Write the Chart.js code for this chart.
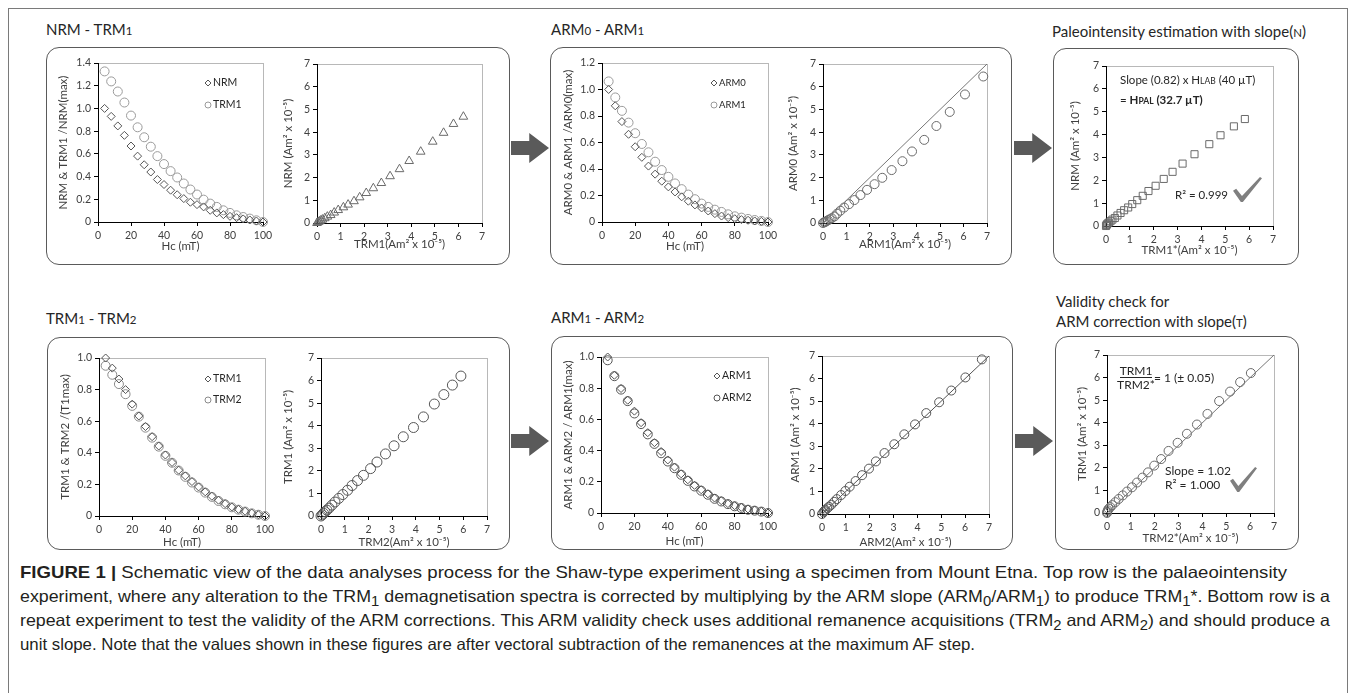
<!DOCTYPE html>
<html>
<head>
<meta charset="utf-8">
<script src="https://cdn.jsdelivr.net/npm/chart.js@4.4.1/dist/chart.umd.min.js"></script>
<style>
  html, body { margin: 0; padding: 0; background: #fff; }
  body { width: 1355px; height: 693px; position: relative; overflow: hidden; font-family: Lato, 'Open Sans', sans-serif; color: #262626; }
  .frame { position: absolute; left: 8px; top: 8px; width: 1338px; height: 720px; border: 1px solid #7a7a7a; }
  .box { position: absolute; border: 1px solid #5a5a5a; border-radius: 13px; }
  .title { position: absolute; font-size: 15px; line-height: 18px; white-space: nowrap; color: #262626; }
  .title small { font-size: 11.5px; }
  .arrow { position: absolute; width: 38px; height: 30px; background: #5a5a5a;
           clip-path: polygon(0 27%, 48% 27%, 48% 0, 100% 50%, 48% 100%, 48% 73%, 0 73%); }
  .plot { position: absolute; }
  .caption { position: absolute; left: 20px; top: 560px; font-family: 'Liberation Sans', Arial, sans-serif; font-size: 16.5px; color: #231f20; }
  .caption div { height: 24px; line-height: 24px; white-space: nowrap; }
  .caption span { display: inline-block; transform-origin: 0 50%; }
</style>
</head>
<body>
<div class="frame"></div>

<div class="title" style="left:46px;top:20px">NRM - TRM<small>1</small></div>
<div class="title" style="left:551px;top:20px">ARM<small>0</small> - ARM<small>1</small></div>
<div class="title" style="left:1052px;top:22px">Paleointensity estimation with slope(<small>N</small>)</div>
<div class="title" style="left:46px;top:309px">TRM<small>1</small> - TRM<small>2</small></div>
<div class="title" style="left:551px;top:308px">ARM<small>1</small> - ARM<small>2</small></div>
<div class="title" style="left:1056px;top:291px;line-height:20px">Validity check for<br>ARM correction with slope(<small>T</small>)</div>

<div class="box" style="left:46px;top:47px;width:462px;height:216px"></div>
<div class="box" style="left:550px;top:47px;width:460px;height:216px"></div>
<div class="box" style="left:1053px;top:48px;width:244px;height:215px"></div>
<div class="box" style="left:47px;top:337px;width:461px;height:211px"></div>
<div class="box" style="left:551px;top:336px;width:460px;height:212px"></div>
<div class="box" style="left:1055px;top:336px;width:242px;height:212px"></div>

<div class="arrow" style="left:511px;top:133px"></div>
<div class="arrow" style="left:1014px;top:133px"></div>
<div class="arrow" style="left:511px;top:426px"></div>
<div class="arrow" style="left:1015px;top:426px"></div>

<div class="caption" id="caption">
  <div><span><b>FIGURE 1 |</b> Schematic view of the data analyses process for the Shaw-type experiment using a specimen from Mount Etna. Top row is the palaeointensity</span></div>
  <div><span>experiment, where any alteration to the TRM<sub>1</sub> demagnetisation spectra is corrected by multiplying by the ARM slope (ARM<sub>0</sub>/ARM<sub>1</sub>) to produce TRM<sub>1</sub>*. Bottom row is a</span></div>
  <div><span>repeat experiment to test the validity of the ARM corrections. This ARM validity check uses additional remanence acquisitions (TRM<sub>2</sub> and ARM<sub>2</sub>) and should produce a</span></div>
  <div><span>unit slope. Note that the values shown in these figures are after vectoral subtraction of the remanences at the maximum AF step.</span></div>
</div>

<script>
// AF demagnetisation steps (mT)
const hcSteps = [4, 8, 12, 16, 20, 24, 28, 32, 36, 40, 44, 48, 52, 56, 60, 64, 68, 72, 76, 80, 84, 88, 92, 96, 100];

// top row: normalised demagnetisation curves
const nrmNorm  = [1.00, 0.93, 0.846, 0.763, 0.669, 0.58, 0.504, 0.44, 0.374, 0.33, 0.28, 0.24, 0.206, 0.174, 0.153, 0.133, 0.103, 0.08, 0.065, 0.05, 0.038, 0.027, 0.018, 0.009, 0];
const trm1Norm = [1.326, 1.238, 1.149, 1.052, 0.937, 0.834, 0.746, 0.663, 0.58, 0.51, 0.448, 0.392, 0.339, 0.286, 0.242, 0.197, 0.162, 0.133, 0.103, 0.08, 0.059, 0.044, 0.03, 0.015, 0];
const arm0Norm = [1.00, 0.877, 0.758, 0.662, 0.568, 0.488, 0.422, 0.361, 0.308, 0.265, 0.227, 0.19, 0.157, 0.129, 0.106, 0.083, 0.063, 0.045, 0.033, 0.025, 0.018, 0.013, 0.008, 0.005, 0];
const arm1Norm = [1.061, 0.94, 0.839, 0.75, 0.67, 0.589, 0.526, 0.455, 0.392, 0.341, 0.291, 0.248, 0.207, 0.172, 0.139, 0.114, 0.093, 0.076, 0.058, 0.043, 0.033, 0.023, 0.015, 0.008, 0];

// top row: remanences (Am2 x 1e-5)
const trm1Abs  = [6.21, 5.79, 5.37, 4.91, 4.40, 3.91, 3.50, 3.10, 2.73, 2.39, 2.09, 1.81, 1.57, 1.32, 1.12, 0.90, 0.73, 0.58, 0.44, 0.33, 0.23, 0.16, 0.10, 0.05, 0];
const nrmAbs   = [4.68, 4.36, 3.97, 3.58, 3.14, 2.73, 2.37, 2.06, 1.76, 1.53, 1.32, 1.13, 0.96, 0.81, 0.69, 0.57, 0.46, 0.35, 0.28, 0.21, 0.15, 0.11, 0.07, 0.04, 0];
const arm1Abs  = [6.84, 6.06, 5.41, 4.84, 4.32, 3.80, 3.39, 2.93, 2.53, 2.20, 1.88, 1.60, 1.34, 1.11, 0.90, 0.74, 0.60, 0.49, 0.37, 0.28, 0.21, 0.15, 0.10, 0.05, 0];
const arm0Abs  = [6.45, 5.66, 4.89, 4.27, 3.66, 3.15, 2.72, 2.33, 1.99, 1.71, 1.46, 1.23, 1.01, 0.83, 0.68, 0.54, 0.41, 0.29, 0.21, 0.16, 0.12, 0.08, 0.05, 0.03, 0];
const trm1Star = [5.82, 5.36, 4.80, 4.33, 3.71, 3.21, 2.79, 2.42, 2.08, 1.78, 1.54, 1.31, 1.10, 0.93, 0.76, 0.61, 0.48, 0.37, 0.27, 0.19, 0.12, 0.07, 0.04, 0.02, 0];

// bottom row: normalised demagnetisation curves
const trm1NormB = [1.00, 0.936, 0.867, 0.80, 0.708, 0.633, 0.566, 0.502, 0.443, 0.386, 0.339, 0.29, 0.254, 0.218, 0.184, 0.153, 0.125, 0.10, 0.078, 0.057, 0.042, 0.03, 0.019, 0.008, 0];
const trm2Norm  = [0.951, 0.894, 0.835, 0.771, 0.697, 0.629, 0.559, 0.496, 0.439, 0.381, 0.337, 0.288, 0.248, 0.212, 0.18, 0.148, 0.121, 0.095, 0.074, 0.055, 0.04, 0.028, 0.017, 0.008, 0];
const arm1NormB = [1.00, 0.883, 0.798, 0.723, 0.653, 0.579, 0.515, 0.451, 0.394, 0.34, 0.294, 0.251, 0.213, 0.177, 0.149, 0.123, 0.096, 0.079, 0.06, 0.047, 0.036, 0.026, 0.019, 0.011, 0];
const arm2Norm  = [0.979, 0.877, 0.791, 0.717, 0.638, 0.57, 0.504, 0.443, 0.383, 0.33, 0.287, 0.245, 0.206, 0.17, 0.143, 0.117, 0.091, 0.074, 0.057, 0.043, 0.032, 0.021, 0.015, 0.009, 0];

// bottom row: remanences (Am2 x 1e-5)
const trm2Abs   = [5.90, 5.54, 5.18, 4.78, 4.32, 3.90, 3.47, 3.08, 2.72, 2.36, 2.09, 1.79, 1.54, 1.31, 1.12, 0.92, 0.75, 0.59, 0.46, 0.34, 0.25, 0.17, 0.11, 0.05, 0];
const trm1AbsB  = [6.20, 5.80, 5.38, 4.96, 4.39, 3.92, 3.51, 3.11, 2.75, 2.39, 2.10, 1.80, 1.57, 1.35, 1.14, 0.95, 0.78, 0.62, 0.48, 0.35, 0.26, 0.19, 0.12, 0.05, 0];
const arm2Abs   = [6.70, 6.01, 5.42, 4.91, 4.37, 3.90, 3.45, 3.03, 2.62, 2.26, 1.97, 1.68, 1.41, 1.16, 0.98, 0.80, 0.62, 0.51, 0.39, 0.29, 0.22, 0.14, 0.10, 0.06, 0];
const arm1AbsB  = [6.85, 6.05, 5.47, 4.95, 4.47, 3.97, 3.53, 3.09, 2.70, 2.33, 2.01, 1.72, 1.46, 1.21, 1.02, 0.84, 0.66, 0.54, 0.41, 0.32, 0.25, 0.18, 0.13, 0.08, 0];
const trm2Star  = [6.03, 5.58, 5.16, 4.70, 4.21, 3.77, 3.35, 2.96, 2.58, 2.27, 1.98, 1.72, 1.49, 1.26, 1.05, 0.84, 0.66, 0.49, 0.35, 0.22, 0.14, 0.07, 0.03, 0.01, 0];

// end points of the 1:1 reference line
const unitRange = [0, 7];

Chart.defaults.font.family = "Lato, 'Open Sans', sans-serif";
Chart.defaults.color = '#404040';
Chart.defaults.animation = false;

const TITLE_SIZE = 11.5;
const TITLE_LH = TITLE_SIZE * 1.2;

const pts = (xs, ys) => xs.map((x, i) => ({ x, y: ys[i] }));

function series(label, xs, ys, style, color, radius) {
  return {
    label, data: pts(xs, ys), showLine: false, clip: false,
    pointStyle: style, pointRadius: radius, pointHoverRadius: radius, pointBorderWidth: 1,
    pointBorderColor: color, pointBackgroundColor: 'rgba(0,0,0,0)',
    borderColor: color, backgroundColor: 'rgba(0,0,0,0)'
  };
}

function unitLine(color) {
  return { data: pts(unitRange, unitRange), showLine: true, pointRadius: 0, borderColor: color, borderWidth: 1, clip: false };
}

function scaleOpts(max, step, title, fit) {
  return {
    type: 'linear', min: 0, max,
    ticks: { stepSize: step, padding: 3, maxRotation: 0, font: { size: 10.5 }, color: '#404040' },
    grid: { drawOnChartArea: false, drawTicks: true, tickLength: 4, color: '#000' },
    border: { display: true, color: '#000', width: 1 },
    title: { display: true, text: title, padding: 0, color: '#404040', font: { size: TITLE_SIZE, lineHeight: 1.2 } },
    afterFit: fit
  };
}

// light grey plot-area outline, drawn under the axes
const framePlugin = {
  id: 'frame',
  beforeDraw(chart) {
    const { ctx, chartArea: a } = chart;
    ctx.save();
    ctx.strokeStyle = '#b8b8b8';
    ctx.lineWidth = 1;
    ctx.strokeRect(Math.round(a.left) + 0.5, Math.round(a.top) + 0.5, Math.round(a.right - a.left), Math.round(a.bottom - a.top));
    ctx.restore();
  }
};

// legend drawn inside the plot area
function keyPlugin(pos) {
  return {
    id: 'key',
    afterDatasetsDraw(chart) {
      const { ctx, chartArea: a } = chart;
      ctx.save();
      ctx.font = pos.size + 'px Lato';
      ctx.textBaseline = 'middle';
      let y = a.top + pos.y;
      chart.data.datasets.filter(d => d.label).forEach(d => {
        const x = a.left + pos.x, r = 3;
        ctx.strokeStyle = d.pointBorderColor;
        ctx.lineWidth = 1;
        ctx.beginPath();
        if (d.pointStyle === 'rectRot') {
          ctx.moveTo(x, y - r); ctx.lineTo(x + r, y); ctx.lineTo(x, y + r); ctx.lineTo(x - r, y); ctx.closePath();
        } else {
          ctx.arc(x, y, r, 0, Math.PI * 2);
        }
        ctx.stroke();
        ctx.fillStyle = '#262626';
        ctx.fillText(d.label, x + r + 2, y);
        y += pos.gap;
      });
      ctx.restore();
    }
  };
}

// free text, fraction rules and tick marks inside the plot area
function notesPlugin(notes) {
  return {
    id: 'notes',
    afterDatasetsDraw(chart) {
      const { ctx, chartArea: a } = chart;
      ctx.save();
      ctx.fillStyle = '#262626';
      ctx.textBaseline = 'alphabetic';
      (notes.lines || []).forEach(line => {
        const fonts = line.runs.map(r => (r[2] || '') + ' ' + r[1] + 'px Lato');
        let total = 0;
        line.runs.forEach((r, i) => { ctx.font = fonts[i]; total += ctx.measureText(r[0]).width; });
        let x = a.left + line.x - (line.align === 'center' ? total / 2 : 0);
        line.runs.forEach((r, i) => {
          ctx.font = fonts[i];
          ctx.fillText(r[0], x, a.top + line.y);
          x += ctx.measureText(r[0]).width;
        });
      });
      (notes.rules || []).forEach(r => {
        ctx.strokeStyle = '#262626';
        ctx.lineWidth = 1;
        ctx.beginPath();
        ctx.moveTo(a.left + r.x1, a.top + r.y);
        ctx.lineTo(a.left + r.x2, a.top + r.y);
        ctx.stroke();
      });
      (notes.checks || []).forEach(c => {
        const shape = [[0, 0.55], [0.11, 0.47], [0.31, 0.76], [0.93, 0], [1, 0.05], [0.34, 1], [0.27, 1]];
        ctx.fillStyle = '#7f7f7f';
        ctx.beginPath();
        shape.forEach(([u, v], i) => {
          const px = a.left + c.x + u * c.w, py = a.top + c.y + v * c.h;
          i ? ctx.lineTo(px, py) : ctx.moveTo(px, py);
        });
        ctx.closePath();
        ctx.fill();
      });
      ctx.restore();
    }
  };
}

function plot(p) {
  const left = Math.round(p.yTitleX - TITLE_LH / 2);
  const top = p.T - 10;
  const right = p.R + 14;
  const bottom = Math.round(p.xTitleY + TITLE_LH / 2);
  const wrap = document.createElement('div');
  wrap.className = 'plot';
  wrap.style.cssText = `left:${left}px;top:${top}px;width:${right - left}px;height:${bottom - top}px`;
  const canvas = document.createElement('canvas');
  wrap.appendChild(canvas);
  document.body.appendChild(wrap);
  const yW = p.L - left, xH = bottom - p.B;
  const extra = [framePlugin];
  if (p.key) extra.push(keyPlugin(p.key));
  if (p.notes) extra.push(notesPlugin(p.notes));
  new Chart(canvas, {
    type: 'scatter',
    data: { datasets: p.datasets },
    options: {
      responsive: true, maintainAspectRatio: false, events: [],
      layout: { padding: { left: 0, top: 10, right: 14, bottom: 0 } },
      scales: {
        x: scaleOpts(p.xMax, p.xStep, p.xTitle, s => { s.height = xH; }),
        y: scaleOpts(p.yMax, p.yStep, p.yTitle, s => { s.width = yW; })
      },
      plugins: { legend: { display: false }, tooltip: { enabled: false } }
    },
    plugins: extra
  });
}

const AM = '(Am² x 10⁻⁵)';

// NRM - TRM1
plot({
  L: 98, T: 63, R: 263, B: 222, yTitleX: 63, xTitleY: 246,
  xMax: 100, xStep: 20, yMax: 1.4, yStep: 0.2,
  xTitle: 'Hc (mT)', yTitle: 'NRM & TRM1 /NRM(max)',
  key: { x: 110, y: 20, gap: 22, size: 10.5 },
  datasets: [
    series('NRM', hcSteps, nrmNorm, 'rectRot', '#555', 4),
    series('TRM1', hcSteps, trm1Norm, 'circle', '#9a9a9a', 4.5)
  ]
});
plot({
  L: 317, T: 64, R: 482, B: 223, yTitleX: 288, xTitleY: 244,
  xMax: 7, xStep: 1, yMax: 7, yStep: 1,
  xTitle: 'TRM1' + AM, yTitle: 'NRM ' + AM,
  datasets: [series(null, trm1Abs, nrmAbs, 'triangle', '#6a6a6a', 5)]
});

// ARM0 - ARM1
plot({
  L: 602, T: 63, R: 768, B: 222, yTitleX: 568, xTitleY: 246,
  xMax: 100, xStep: 20, yMax: 1.2, yStep: 0.2,
  xTitle: 'Hc (mT)', yTitle: 'ARM0 & ARM1 /ARM0(max)',
  key: { x: 112, y: 20, gap: 22, size: 9.5 },
  datasets: [
    series('ARM0', hcSteps, arm0Norm, 'rectRot', '#555', 4),
    series('ARM1', hcSteps, arm1Norm, 'circle', '#9a9a9a', 4.5)
  ]
});
plot({
  L: 823, T: 64, R: 987, B: 223, yTitleX: 793, xTitleY: 244,
  xMax: 7, xStep: 1, yMax: 7, yStep: 1,
  xTitle: 'ARM1' + AM, yTitle: 'ARM0 ' + AM,
  datasets: [unitLine('#777'), series(null, arm1Abs, arm0Abs, 'circle', '#6a6a6a', 4.5)]
});

// palaeointensity estimate
plot({
  L: 1106, T: 66, R: 1273, B: 226, yTitleX: 1075, xTitleY: 250,
  xMax: 7, xStep: 1, yMax: 7, yStep: 1,
  xTitle: 'TRM1*' + AM, yTitle: 'NRM ' + AM,
  notes: {
    lines: [
      { x: 14, y: 18, runs: [['Slope (0.82) x H', 11.5], ['LAB', 8.5], [' (40 µT)', 11.5]] },
      { x: 14, y: 38, runs: [['= ', 11.5], ['H', 11.5, 'bold'], ['PAL', 8.5, 'bold'], [' (32.7 µT)', 11.5, 'bold']] },
      { x: 69, y: 133, runs: [['R² = 0.999', 11.5]] }
    ],
    checks: [{ x: 127, y: 111, w: 29, h: 25 }]
  },
  datasets: [series(null, trm1Star, nrmAbs, 'rect', '#6a6a6a', 5)]
});

// TRM1 - TRM2
plot({
  L: 99, T: 358, R: 265, B: 516, yTitleX: 65, xTitleY: 542,
  xMax: 100, xStep: 20, yMax: 1, yStep: 0.2,
  xTitle: 'Hc (mT)', yTitle: 'TRM1 & TRM2 /(T1max)',
  key: { x: 109, y: 21, gap: 21, size: 10.5 },
  datasets: [
    series('TRM1', hcSteps, trm1NormB, 'rectRot', '#555', 4),
    series('TRM2', hcSteps, trm2Norm, 'circle', '#8a8a8a', 4.5)
  ]
});
plot({
  L: 321, T: 358, R: 487, B: 516, yTitleX: 288, xTitleY: 542,
  xMax: 7, xStep: 1, yMax: 7, yStep: 1,
  xTitle: 'TRM2' + AM, yTitle: 'TRM1 ' + AM,
  datasets: [series(null, trm2Abs, trm1AbsB, 'circle', '#555', 5)]
});

// ARM1 - ARM2
plot({
  L: 601, T: 357, R: 768, B: 513, yTitleX: 568, xTitleY: 541,
  xMax: 100, xStep: 20, yMax: 1, yStep: 0.2,
  xTitle: 'Hc (mT)', yTitle: 'ARM1 & ARM2 / ARM1(max)',
  key: { x: 116, y: 19, gap: 22, size: 10.5 },
  datasets: [
    series('ARM1', hcSteps, arm1NormB, 'rectRot', '#555', 4),
    series('ARM2', hcSteps, arm2Norm, 'circle', '#555', 4.5)
  ]
});
plot({
  L: 822, T: 356, R: 989, B: 514, yTitleX: 795, xTitleY: 542,
  xMax: 7, xStep: 1, yMax: 7, yStep: 1,
  xTitle: 'ARM2' + AM, yTitle: 'ARM1 ' + AM,
  datasets: [unitLine('#555'), series(null, arm2Abs, arm1AbsB, 'circle', '#555', 4.5)]
});

// validity check of the ARM correction
plot({
  L: 1107, T: 355, R: 1274, B: 513, yTitleX: 1082, xTitleY: 538,
  xMax: 7, xStep: 1, yMax: 7, yStep: 1,
  xTitle: 'TRM2*' + AM, yTitle: 'TRM1 ' + AM,
  notes: {
    lines: [
      { x: 29, y: 20, align: 'center', runs: [['TRM1', 12]] },
      { x: 29, y: 34, align: 'center', runs: [['TRM2*', 12]] },
      { x: 47, y: 27, runs: [['= 1 (± 0.05)', 12]] },
      { x: 58, y: 120, runs: [['Slope = 1.02', 12]] },
      { x: 58, y: 134, runs: [['R² = 1.000', 12]] }
    ],
    rules: [{ x1: 13, x2: 45, y: 22.5 }],
    checks: [{ x: 123, y: 112, w: 27, h: 25 }]
  },
  datasets: [unitLine('#777'), series(null, trm2Star, trm1AbsB, 'circle', '#6a6a6a', 4.5)]
});

// squeeze each caption line to its printed width
const captionWidths = [1267, 1310, 1310, 955];
document.querySelectorAll('#caption span').forEach((s, i) => {
  const w = s.getBoundingClientRect().width;
  s.style.transform = `scaleX(${captionWidths[i] / w})`;
});
</script>
</body>
</html>
